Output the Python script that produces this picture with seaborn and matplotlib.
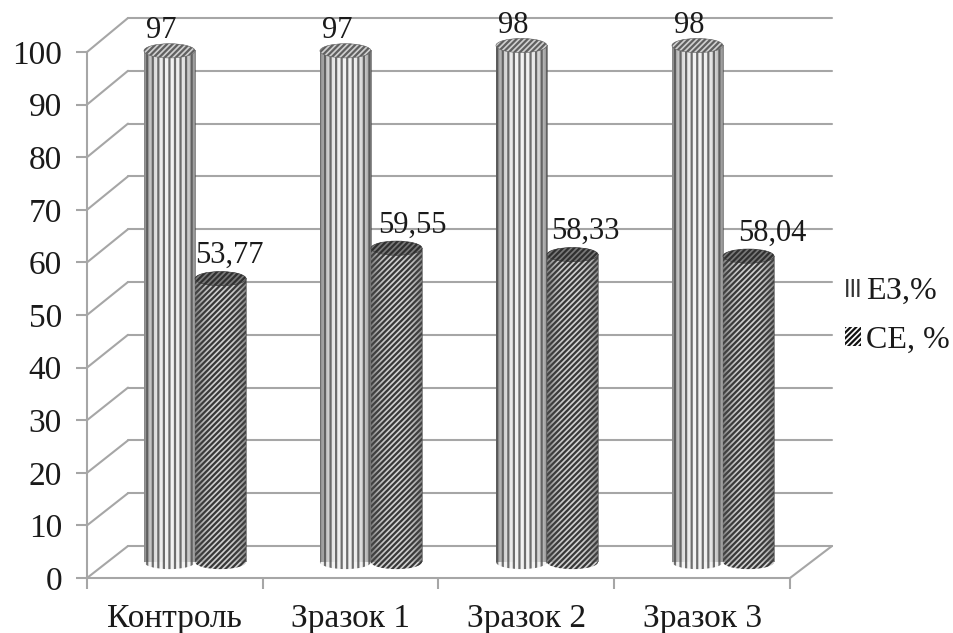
import numpy as np
import pandas as pd
import matplotlib
matplotlib.use("Agg")
import matplotlib.pyplot as plt
import seaborn as sns
from matplotlib.patches import ConnectionPatch, Ellipse, Patch

# Values
categories = ["Контроль", "Зразок 1", "Зразок 2", "Зразок 3"]
ez_values = [97, 97, 98, 98]
ce_values = [53.77, 59.55, 58.33, 58.04]
ez_labels = ["97", "97", "98", "98"]
ce_labels = ["53,77", "59,55", "58,33", "58,04"]
y_ticks = list(range(0, 101, 10))

sns.set_theme(style="white")
plt.rcParams["font.family"] = ["Liberation Serif", "DejaVu Serif"]
plt.rcParams["hatch.linewidth"] = 1.6

W, H = 954, 633
GRID = "#a6a6a6"
TEXT = "#1a1a1a"
AXIS_FS = 24
LABEL_FS = 22


def make_axes(left, right, y0, y100):
    ax = fig.add_axes([left / W, (H - y0) / H, (right - left) / W, (y0 - y100) / H])
    ax.set_xlim(-0.5, 3.5)
    ax.set_ylim(0, 100)
    ax.patch.set_visible(False)
    for side in ax.spines:
        ax.spines[side].set_visible(False)
    return ax


fig = plt.figure(figsize=(W / 100, H / 100), dpi=100)

# Pseudo 3D: back wall, bar plane and front axis are three aligned axes
back = make_axes(128, 832, 546, 18)
ax = make_axes(107, 811, 562, 35)
front = make_axes(87, 790, 578, 52)
back.set_zorder(1)
front.set_zorder(2)
ax.set_zorder(3)

back.set_xticks([])
back.set_yticks(y_ticks)
back.set_yticklabels([])
back.tick_params(left=False)
back.grid(axis="y", color=GRID, lw=1.5)
back.set_axisbelow(True)
for line in back.get_ygridlines():
    line.set_clip_on(False)

for side in ["left", "bottom"]:
    front.spines[side].set_visible(True)
    front.spines[side].set_color(GRID)
    front.spines[side].set_linewidth(1.5)
front.set_yticks(y_ticks)
front.set_xticks([-0.5, 0.5, 1.5, 2.5, 3.5])
front.set_xticklabels([])
front.set_xticks([0, 1, 2, 3], minor=True)
front.set_xticklabels(categories, minor=True)
front.tick_params(axis="y", which="major", left=True, length=8, width=1.5, color=GRID,
                  labelsize=AXIS_FS, pad=10, labelcolor=TEXT)
front.tick_params(axis="x", which="major", bottom=True, length=8, width=1.5, color=GRID)
front.tick_params(axis="x", which="minor", bottom=False, length=0, labelsize=AXIS_FS,
                  pad=18, labelcolor=TEXT)

# Diagonal floor and wall lines
for v in y_ticks:
    fig.add_artist(ConnectionPatch((-0.5, v), (-0.5, v), "data", "data", axesA=front, axesB=back,
                                   color=GRID, lw=1.5))
fig.add_artist(ConnectionPatch((3.5, 0), (3.5, 0), "data", "data", axesA=front, axesB=back,
                               color=GRID, lw=1.5))

df = pd.DataFrame({
    "category": categories * 2,
    "value": ez_values + ce_values,
    "series": ["ЕЗ,%"] * 4 + ["СЕ, %"] * 4,
})
sns.barplot(data=df, x="category", y="value", hue="series", ax=ax, width=0.58, gap=0,
            palette=["#f4f4f4", "#d8d8d8"], legend=False, saturation=1)
ax.set_xlabel("")
ax.set_ylabel("")
ax.set_xticks([])
ax.set_yticks([])

bar_style = [
    dict(face="#f2f2f2", edge="#6e6e6e", hatch="|||", top_face="#d0d0d0", top_edge="#606060", z=4),
    dict(face="#d0d0d0", edge="#383838", hatch="//////", top_face="#7a7a7a", top_edge="#303030", z=6),
]
shade = np.abs(np.linspace(-1, 1, 80)) ** 3
shade_rgba = np.full((1, 80, 4), 0.3)
shade_rgba[..., 3] = shade * 0.65

label_shift = [[-0.045, -0.045, -0.045, -0.045], [0.05, 0.09, 0.075, 0.135]]
label_rise = [1.1, 1.6]
ell_h = 2.7

for s, (container, style, labels) in enumerate(zip(ax.containers, bar_style, [ez_labels, ce_labels])):
    for i, bar in enumerate(container):
        x0, w, v = bar.get_x(), bar.get_width(), bar.get_height()
        cx = x0 + w / 2
        bar.set(facecolor=style["face"], edgecolor=style["edge"], hatch=style["hatch"],
                linewidth=0, zorder=style["z"])
        base = Ellipse((cx, 0), w, ell_h, facecolor=style["face"], edgecolor=style["edge"],
                       hatch=style["hatch"], linewidth=0, zorder=style["z"] - 0.5, clip_on=False)
        ax.add_patch(base)
        ax.imshow(shade_rgba, extent=[x0, x0 + w, 0, v], aspect="auto", zorder=style["z"] + 0.2,
                  interpolation="bilinear")
        cap = Ellipse((cx, v), w, ell_h, facecolor=style["top_face"], edgecolor=style["top_edge"],
                      hatch="//////", linewidth=0.4, zorder=style["z"] + 0.5, clip_on=False)
        ax.add_patch(cap)
        ax.text(cx + label_shift[s][i], v + label_rise[s], labels[i], ha="center", va="bottom",
                fontsize=LABEL_FS, color=TEXT, zorder=10, clip_on=False)
ax.set_xlim(-0.5, 3.5)
ax.set_ylim(0, 100)

handles = [
    Patch(facecolor="white", edgecolor="#333333", hatch="|||", linewidth=0),
    Patch(facecolor="white", edgecolor="#111111", hatch="//////", linewidth=0),
]
fig.legend(handles, ["ЕЗ,%", "СЕ, %"], loc="center left", bbox_to_anchor=(845 / W, 1 - 316 / H),
           frameon=False, fontsize=23, handlelength=0.5, handleheight=0.5, handletextpad=0.15,
           labelspacing=0.62, borderpad=0, borderaxespad=0, labelcolor=TEXT)

fig.savefig("out.png", dpi=100, facecolor="white")
